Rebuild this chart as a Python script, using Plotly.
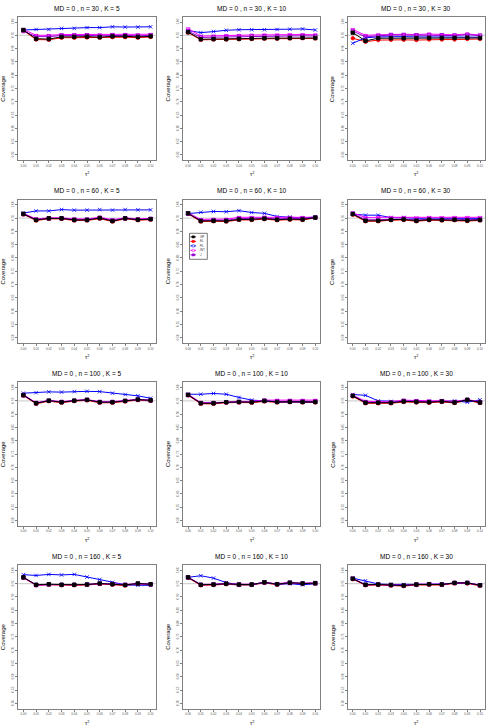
import plotly.graph_objects as go

# tau^2 grid and tick labels
tau2 = [0.00, 0.01, 0.02, 0.03, 0.04, 0.05, 0.06, 0.07, 0.08, 0.09, 0.10]
x_ticks = ["0.00", "0.01", "0.02", "0.03", "0.04", "0.05", "0.06", "0.07", "0.08", "0.09", "0.10"]
y_ticks = [0.50, 0.55, 0.60, 0.65, 0.70, 0.75, 0.80, 0.85, 0.90, 0.95, 1.00]

sample_sizes = [30, 60, 100, 160]
study_counts = [5, 10, 30]
methods = ["GP", "EL", "PL", "INT", "J"]

# coverage estimates, one list per method per panel (n, K)
gp_30_5 = [0.970, 0.937, 0.936, 0.944, 0.944, 0.945, 0.943, 0.946, 0.946, 0.944, 0.946]
el_30_5 = [0.968, 0.934, 0.933, 0.941, 0.941, 0.942, 0.941, 0.943, 0.943, 0.941, 0.944]
pl_30_5 = [0.970, 0.972, 0.972, 0.976, 0.976, 0.979, 0.979, 0.982, 0.981, 0.981, 0.982]
int_30_5 = [0.972, 0.950, 0.950, 0.953, 0.953, 0.953, 0.952, 0.954, 0.954, 0.952, 0.954]
j_30_5 = [0.966, 0.945, 0.945, 0.949, 0.949, 0.950, 0.948, 0.950, 0.950, 0.948, 0.950]

gp_30_10 = [0.962, 0.935, 0.936, 0.936, 0.937, 0.938, 0.939, 0.939, 0.940, 0.941, 0.940]
el_30_10 = [0.960, 0.933, 0.934, 0.934, 0.935, 0.936, 0.937, 0.937, 0.938, 0.939, 0.938]
pl_30_10 = [0.968, 0.960, 0.964, 0.969, 0.971, 0.971, 0.971, 0.972, 0.973, 0.974, 0.970]
int_30_10 = [0.975, 0.947, 0.948, 0.950, 0.950, 0.951, 0.952, 0.952, 0.953, 0.953, 0.952]
j_30_10 = [0.966, 0.942, 0.943, 0.944, 0.945, 0.946, 0.946, 0.946, 0.947, 0.948, 0.947]

gp_30_30 = [0.960, 0.929, 0.939, 0.939, 0.939, 0.939, 0.940, 0.940, 0.940, 0.941, 0.940]
el_30_30 = [0.939, 0.926, 0.932, 0.933, 0.933, 0.932, 0.934, 0.934, 0.934, 0.936, 0.936]
pl_30_30 = [0.920, 0.941, 0.944, 0.945, 0.945, 0.944, 0.944, 0.944, 0.944, 0.945, 0.943]
int_30_30 = [0.972, 0.950, 0.952, 0.954, 0.954, 0.953, 0.955, 0.953, 0.952, 0.955, 0.951]
j_30_30 = [0.966, 0.944, 0.948, 0.951, 0.951, 0.950, 0.951, 0.950, 0.949, 0.952, 0.949]

gp_60_5 = [0.966, 0.943, 0.949, 0.949, 0.943, 0.943, 0.950, 0.939, 0.949, 0.944, 0.946]
el_60_5 = [0.964, 0.941, 0.947, 0.947, 0.941, 0.941, 0.948, 0.937, 0.947, 0.942, 0.944]
pl_60_5 = [0.969, 0.977, 0.977, 0.982, 0.980, 0.980, 0.982, 0.980, 0.982, 0.981, 0.981]
int_60_5 = [0.968, 0.947, 0.951, 0.951, 0.947, 0.947, 0.953, 0.944, 0.951, 0.947, 0.949]
j_60_5 = [0.965, 0.944, 0.949, 0.949, 0.944, 0.944, 0.951, 0.941, 0.949, 0.945, 0.947]

gp_60_10 = [0.968, 0.939, 0.940, 0.939, 0.945, 0.945, 0.948, 0.944, 0.946, 0.945, 0.952]
el_60_10 = [0.966, 0.937, 0.938, 0.937, 0.943, 0.943, 0.946, 0.942, 0.944, 0.943, 0.951]
pl_60_10 = [0.967, 0.972, 0.975, 0.974, 0.978, 0.971, 0.968, 0.956, 0.954, 0.951, 0.954]
int_60_10 = [0.970, 0.945, 0.946, 0.946, 0.953, 0.953, 0.954, 0.953, 0.953, 0.953, 0.953]
j_60_10 = [0.967, 0.941, 0.942, 0.942, 0.948, 0.948, 0.950, 0.947, 0.949, 0.948, 0.952]

gp_60_30 = [0.965, 0.940, 0.940, 0.944, 0.945, 0.940, 0.944, 0.943, 0.944, 0.941, 0.943]
el_60_30 = [0.963, 0.938, 0.938, 0.942, 0.943, 0.938, 0.942, 0.941, 0.942, 0.939, 0.941]
pl_60_30 = [0.965, 0.961, 0.961, 0.952, 0.952, 0.949, 0.950, 0.949, 0.949, 0.949, 0.949]
int_60_30 = [0.970, 0.952, 0.953, 0.953, 0.953, 0.951, 0.953, 0.952, 0.953, 0.953, 0.953]
j_60_30 = [0.967, 0.944, 0.944, 0.946, 0.947, 0.943, 0.946, 0.945, 0.946, 0.944, 0.945]

gp_100_5 = [0.972, 0.941, 0.951, 0.945, 0.951, 0.954, 0.945, 0.945, 0.950, 0.955, 0.952]
el_100_5 = [0.970, 0.939, 0.949, 0.943, 0.949, 0.952, 0.943, 0.943, 0.948, 0.953, 0.950]
pl_100_5 = [0.979, 0.981, 0.984, 0.983, 0.985, 0.986, 0.985, 0.979, 0.974, 0.969, 0.960]
int_100_5 = [0.974, 0.943, 0.952, 0.947, 0.952, 0.955, 0.947, 0.947, 0.952, 0.956, 0.953]
j_100_5 = [0.971, 0.942, 0.951, 0.946, 0.951, 0.954, 0.946, 0.946, 0.950, 0.955, 0.952]

gp_100_10 = [0.973, 0.941, 0.941, 0.945, 0.946, 0.945, 0.950, 0.946, 0.947, 0.946, 0.946]
el_100_10 = [0.971, 0.939, 0.939, 0.943, 0.944, 0.943, 0.948, 0.944, 0.945, 0.944, 0.944]
pl_100_10 = [0.975, 0.975, 0.978, 0.975, 0.963, 0.953, 0.950, 0.946, 0.946, 0.946, 0.946]
int_100_10 = [0.975, 0.944, 0.943, 0.946, 0.948, 0.948, 0.953, 0.953, 0.953, 0.953, 0.953]
j_100_10 = [0.972, 0.942, 0.942, 0.945, 0.946, 0.946, 0.951, 0.948, 0.949, 0.948, 0.948]

gp_100_30 = [0.969, 0.943, 0.943, 0.943, 0.948, 0.946, 0.945, 0.948, 0.944, 0.954, 0.944]
el_100_30 = [0.967, 0.941, 0.941, 0.941, 0.946, 0.944, 0.943, 0.946, 0.942, 0.952, 0.942]
pl_100_30 = [0.974, 0.971, 0.950, 0.948, 0.948, 0.951, 0.948, 0.948, 0.950, 0.945, 0.954]
int_100_30 = [0.971, 0.949, 0.947, 0.947, 0.953, 0.951, 0.950, 0.951, 0.948, 0.955, 0.947]
j_100_30 = [0.970, 0.945, 0.944, 0.944, 0.950, 0.948, 0.947, 0.949, 0.945, 0.954, 0.945]

gp_160_5 = [0.974, 0.946, 0.948, 0.946, 0.946, 0.947, 0.951, 0.948, 0.945, 0.951, 0.948]
el_160_5 = [0.972, 0.944, 0.946, 0.944, 0.944, 0.945, 0.949, 0.946, 0.943, 0.949, 0.946]
pl_160_5 = [0.984, 0.981, 0.985, 0.983, 0.985, 0.975, 0.966, 0.955, 0.946, 0.944, 0.944]
int_160_5 = [0.975, 0.945, 0.946, 0.946, 0.946, 0.947, 0.951, 0.950, 0.947, 0.950, 0.948]
j_160_5 = [0.973, 0.945, 0.947, 0.946, 0.946, 0.947, 0.950, 0.949, 0.946, 0.950, 0.948]

gp_160_10 = [0.974, 0.946, 0.947, 0.950, 0.947, 0.947, 0.955, 0.948, 0.954, 0.951, 0.952]
el_160_10 = [0.972, 0.944, 0.945, 0.948, 0.945, 0.945, 0.953, 0.946, 0.952, 0.949, 0.950]
pl_160_10 = [0.974, 0.980, 0.971, 0.954, 0.946, 0.946, 0.955, 0.948, 0.950, 0.946, 0.950]
int_160_10 = [0.975, 0.947, 0.948, 0.951, 0.948, 0.948, 0.955, 0.950, 0.955, 0.952, 0.953]
j_160_10 = [0.973, 0.946, 0.947, 0.950, 0.947, 0.947, 0.955, 0.948, 0.954, 0.951, 0.952]

gp_160_30 = [0.969, 0.946, 0.947, 0.945, 0.943, 0.947, 0.948, 0.947, 0.953, 0.953, 0.944]
el_160_30 = [0.967, 0.944, 0.945, 0.943, 0.941, 0.945, 0.946, 0.945, 0.951, 0.951, 0.942]
pl_160_30 = [0.971, 0.961, 0.949, 0.947, 0.947, 0.946, 0.948, 0.949, 0.952, 0.954, 0.944]
int_160_30 = [0.970, 0.946, 0.947, 0.945, 0.944, 0.948, 0.949, 0.948, 0.953, 0.953, 0.945]
j_160_30 = [0.969, 0.946, 0.947, 0.945, 0.943, 0.947, 0.948, 0.947, 0.953, 0.953, 0.944]

panels = {
    (30, 5): [gp_30_5, el_30_5, pl_30_5, int_30_5, j_30_5],
    (30, 10): [gp_30_10, el_30_10, pl_30_10, int_30_10, j_30_10],
    (30, 30): [gp_30_30, el_30_30, pl_30_30, int_30_30, j_30_30],
    (60, 5): [gp_60_5, el_60_5, pl_60_5, int_60_5, j_60_5],
    (60, 10): [gp_60_10, el_60_10, pl_60_10, int_60_10, j_60_10],
    (60, 30): [gp_60_30, el_60_30, pl_60_30, int_60_30, j_60_30],
    (100, 5): [gp_100_5, el_100_5, pl_100_5, int_100_5, j_100_5],
    (100, 10): [gp_100_10, el_100_10, pl_100_10, int_100_10, j_100_10],
    (100, 30): [gp_100_30, el_100_30, pl_100_30, int_100_30, j_100_30],
    (160, 5): [gp_160_5, el_160_5, pl_160_5, int_160_5, j_160_5],
    (160, 10): [gp_160_10, el_160_10, pl_160_10, int_160_10, j_160_10],
    (160, 30): [gp_160_30, el_160_30, pl_160_30, int_160_30, j_160_30],
}

# styling per method
colors = {"GP": "black", "EL": "red", "PL": "blue", "INT": "magenta", "J": "darkviolet"}
symbols = {"GP": "square", "EL": "circle", "PL": "x-thin-open", "INT": "triangle-down-open", "J": "square-open"}
draw_order = ["EL", "PL", "INT", "J", "GP"]

W, H = 495, 726
LEFT0, COL_STEP, PW = 18.3, 164.7, 137.4
TOP0, ROW_STEP, PH = 16.7, 182.8, 143.5
FONT = "Liberation Sans, Arial, sans-serif"
BOX = "#808080"


def px(x, y):
    """pixel position -> paper coordinates"""
    return x / W, 1 - y / H


def label(text, x, y, size, **kw):
    xx, yy = px(x, y)
    return dict(text=text, x=xx, y=yy, xref="paper", yref="paper",
                xanchor=kw.pop("xanchor", "center"), yanchor="middle",
                showarrow=False, font=dict(size=size, color=kw.pop("color", "black")),
                **kw)


fig = go.Figure()
layout = {}
annotations = []
shapes = []

for r, n in enumerate(sample_sizes):
    for c, k in enumerate(study_counts):
        idx = r * 3 + c + 1
        sfx = "" if idx == 1 else str(idx)
        left = LEFT0 + c * COL_STEP
        top = TOP0 + r * ROW_STEP
        x0, x1 = left / W, (left + PW) / W
        y1, y0 = 1 - top / H, 1 - (top + PH) / H

        layout["xaxis" + sfx] = dict(
            domain=[x0, x1], anchor="y" + sfx, range=[-0.004, 0.104],
            tickvals=tau2, ticktext=x_ticks, ticks="outside", ticklen=2,
            tickwidth=0.5, tickcolor=BOX, tickfont=dict(size=3, color="#555"),
            showline=True, mirror=True, linecolor=BOX, linewidth=1,
            showgrid=False, zeroline=False, fixedrange=True,
        )
        layout["yaxis" + sfx] = dict(
            domain=[y0, y1], anchor="x" + sfx, range=[0.48, 1.02],
            tickvals=y_ticks, ticktext=[f"{v:.2f}" for v in y_ticks],
            ticks="outside", ticklen=2, tickwidth=0.5, tickcolor=BOX,
            tickangle=-90, tickfont=dict(size=3, color="#555"),
            showline=True, mirror=True, linecolor=BOX, linewidth=1,
            showgrid=False, zeroline=False, fixedrange=True,
        )

        # reference line at nominal 95%
        shapes.append(dict(
            type="line", xref=f"x{sfx} domain", yref="y" + sfx,
            x0=0, x1=1, y0=0.95, y1=0.95,
            line=dict(color="#c8c8c8", width=1), layer="below",
        ))

        series = dict(zip(methods, panels[(n, k)]))
        for m in draw_order:
            fig.add_trace(go.Scatter(
                x=tau2, y=series[m], mode="lines+markers", name=m,
                xaxis="x" + sfx, yaxis="y" + sfx,
                line=dict(color=colors[m], width=1),
                marker=dict(symbol=symbols[m], size=3.5, color=colors[m],
                            line=dict(width=0.8, color=colors[m])),
                showlegend=False,
            ))

        cx = left + PW / 2
        annotations.append(label(f"MD = 0 , n = {n} , K = {k}", cx, top - 8.7, 6.5))
        annotations.append(label("τ<sup>2</sup>", cx, top + PH + 14, 5.5))
        annotations.append(label("Coverage", left - 15, top + PH / 2, 6, textangle=-90))

# small boxed key inside the (n=60, K=10) panel, R style
key_left, key_top, key_right, key_bottom = 189.5, 233.3, 207.3, 259.3
bx0, by0 = px(key_left, key_bottom)
bx1, by1 = px(key_right, key_top)
shapes.append(dict(type="rect", xref="paper", yref="paper", x0=bx0, x1=bx1,
                   y0=by0, y1=by1, line=dict(color="#555", width=0.8),
                   fillcolor="white"))
for i, m in enumerate(methods):
    yy = key_top + 3.6 + i * 4.5
    lx0, ly = px(190.5, yy)
    lx1, _ = px(196.0, yy)
    shapes.append(dict(type="line", xref="paper", yref="paper", x0=lx0, x1=lx1,
                       y0=ly, y1=ly, line=dict(color=colors[m], width=1)))
    mx0, my0 = px(192.2, yy + 1.1)
    mx1, my1 = px(194.4, yy - 1.1)
    shapes.append(dict(type="rect", xref="paper", yref="paper", x0=mx0, x1=mx1,
                       y0=my0, y1=my1, line=dict(color=colors[m], width=0.5),
                       fillcolor=colors[m] if m in ("GP", "EL", "J") else "white"))
    annotations.append(label(m, 197.5, yy, 3, xanchor="left", color="#333"))

fig.update_layout(
    width=W, height=H,
    margin=dict(l=0, r=0, t=0, b=0),
    paper_bgcolor="white", plot_bgcolor="white",
    font=dict(family=FONT),
    annotations=annotations, shapes=shapes,
    showlegend=False,
    **layout,
)

fig.write_html("out.html", config={"displayModeBar": False},
               post_script="document.body.style.margin='0';")
